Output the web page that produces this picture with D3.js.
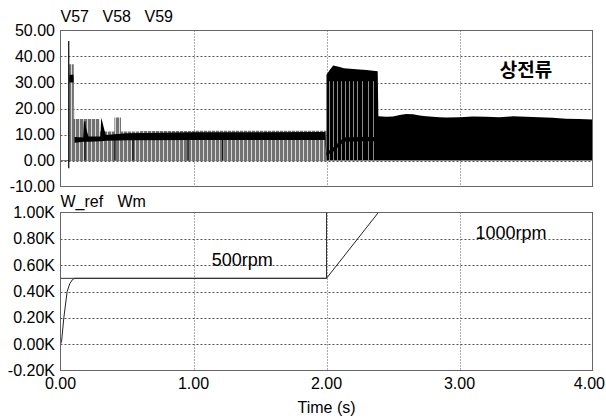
<!DOCTYPE html>
<html><head><meta charset="utf-8">
<script src="https://cdn.jsdelivr.net/npm/d3@7"></script>
<style>
body{margin:0;background:#fff}
svg{display:block}
text{font-family:"Liberation Sans",Arial,sans-serif;fill:#000}
</style>
</head><body>
<svg id="c" width="606" height="419"></svg>
<script>
// ---------- data ----------
const timeTicks = [0, 1, 2, 3, 4];
const topTicks = [-10, 0, 10, 20, 30, 40, 50];
const botTicks = [-0.2, 0, 0.2, 0.4, 0.6, 0.8, 1.0];
const topSeries = ["V57", "V58", "V59"];
const botSeries = ["W_ref", "Wm"];

// phase-current (V57..V59) striped envelope, 0 .. 2.0 s
const envT  = [0.065, 0.098, 0.100, 0.20, 0.29, 0.295, 0.40, 0.405, 0.45, 0.455, 0.60, 1.00, 1.50, 2.00];
const envHi = [37,    37,    16,    16,   16,   11.2,  11.2, 16.5,  16.5, 11.2,  11.3, 11.4, 11.4, 11.6];
// average black band of the phase currents
const bandT  = [0.066, 0.098, 0.106, 0.17, 0.176, 0.21, 0.30, 0.306, 0.34, 0.50, 1.00, 1.50, 1.99, 2.00, 2.05, 2.13, 2.25, 2.39];
const bandLo = [30,    30,    6.8,   7.2,  7.2,   7.2,  7.4,  7.4,   7.6,  7.8,  7.9,  7.9,  7.9,  1.8,  3.4,  7.2,  7.4,  7.4];
const bandHi = [33,    33,    9.0,   8.8,  15.5,  9.2,  9.2,  16.5,  9.8,  10.5, 10.9, 10.9, 11.0, 3.0,  5.0,  8.8,  9.0,  9.0];
// starting spike and dark dips
const spikeT  = [0.062, 0.184, 0.41, 0.545, 0.958, 1.22];
const spikeLo = [-3,    0,     0,    0,     0,     0];
const spikeHi = [46,    15,    10,   9,     9,     9];
// dense (high-speed) region 2.0 .. 4.0 s
const denseT  = [2.00, 2.02, 2.05, 2.10, 2.13, 2.20, 2.30, 2.385, 2.39, 2.45, 2.50, 2.55, 2.60, 2.65, 2.70, 2.75, 2.85, 2.90, 3.00, 3.10, 3.20, 3.30, 3.40, 3.50, 3.60, 3.70, 3.80, 3.90, 4.00];
const denseHi = [33,   34.5, 36.5, 36.0, 35.5, 35.2, 34.8, 34.3,  17.0, 16.8, 16.9, 17.5, 17.9, 17.8, 17.3, 17.0, 16.6, 16.5, 16.6, 16.9, 16.8, 16.6, 17.0, 16.8, 16.6, 16.4, 16.1, 16.0, 15.8];
const denseSolidLo = 30.5;   // solid top band for 2.0..2.385 s
// light striped part of the dense region
const stripeT  = [2.00, 2.25];
const stripeHi = [30.5, 30.5];
const lightLineT = [2.27, 2.31, 2.35];

// speed
const wrefT = [0, 2.0, 2.0, 4.0];
const wrefV = [0.5, 0.5, 1.0, 1.0];
const wmT = [0, 0.008, 0.025, 0.05, 0.07, 0.09, 0.105, 2.0, 2.39, 4.0];
const wmV = [0, 0.02, 0.20, 0.40, 0.46, 0.49, 0.50, 0.50, 1.00, 1.00];

// ---------- layout ----------
const svg = d3.select("#c");
const x = d3.scaleLinear().domain([0, 4]).range([60.5, 592.5]);
const yT = d3.scaleLinear().domain([-10, 50]).range([186.5, 30.5]);
const yB = d3.scaleLinear().domain([-0.2, 1.0]).range([370.5, 212.5]);
const FS = 16;

const defs = svg.append("defs");
const pg = defs.append("pattern").attr("id", "grayStripes").attr("patternUnits", "userSpaceOnUse")
  .attr("width", 4).attr("height", 10);
pg.append("rect").attr("width", 4).attr("height", 10).attr("fill", "#d8d8d8");
pg.append("rect").attr("width", 3).attr("height", 10).attr("fill", "#727272");
const pd = defs.append("pattern").attr("id", "lightLines").attr("patternUnits", "userSpaceOnUse")
  .attr("width", 4).attr("height", 10);
pd.append("rect").attr("x", 1).attr("width", 1).attr("height", 10).attr("fill", "#8a8a8a");

function clip(id, y) {
  defs.append("clipPath").attr("id", id).append("rect")
    .attr("x", x.range()[0]).attr("y", y.range()[1])
    .attr("width", x.range()[1] - x.range()[0]).attr("height", y.range()[0] - y.range()[1]);
}
clip("clipT", yT); clip("clipB", yB);

function grid(g, y, ticks) {
  g.selectAll("line.h").data(ticks.filter(d => d > y.domain()[0] && d < y.domain()[1]))
    .join("line").attr("x1", x.range()[0]).attr("x2", x.range()[1])
    .attr("y1", d => Math.round(y(d)) + 0.5).attr("y2", d => Math.round(y(d)) + 0.5)
    .attr("stroke", "#555").attr("stroke-dasharray", "2,2");
  g.selectAll("line.v").data(timeTicks.slice(1, -1)).join(enter => enter.append("line"))
    .attr("x1", d => Math.round(x(d)) + 0.5).attr("x2", d => Math.round(x(d)) + 0.5)
    .attr("y1", y.range()[1]).attr("y2", y.range()[0])
    .attr("stroke", "#555").attr("stroke-dasharray", "1,2");
}

// ---------- top panel ----------
const gT = svg.append("g");
const gTg = gT.append("g"); grid(gTg, yT, topTicks);
const gTd = gT.append("g").attr("clip-path", "url(#clipT)");
const idx = a => a.map((_, i) => i);

// zero line of phase currents
gTd.append("line").attr("x1", x(0)).attr("x2", x(2.0))
  .attr("y1", yT(0)).attr("y2", yT(0)).attr("stroke", "#777").attr("stroke-width", 1.2);

gTd.append("path").datum(idx(envT))
  .attr("d", d3.area().curve(d3.curveStepAfter).x(i => x(envT[i])).y0(yT(0)).y1(i => yT(envHi[i])))
  .attr("fill", "url(#grayStripes)");

// dense region (solid black)
gTd.append("path").datum(idx(denseT))
  .attr("d", d3.area().x(i => x(denseT[i])).y0(yT(0)).y1(i => yT(denseHi[i])))
  .attr("fill", "#000");
// light lines in the first part of the dense region
gTd.append("path").datum(idx(stripeT))
  .attr("d", d3.area().x(i => x(stripeT[i])).y0(yT(0)).y1(i => yT(stripeHi[i])))
  .attr("fill", "url(#lightLines)");
gTd.selectAll("line.ll").data(lightLineT).join("line")
  .attr("x1", d => Math.round(x(d)) + 0.5).attr("x2", d => Math.round(x(d)) + 0.5)
  .attr("y1", yT(0)).attr("y2", yT(denseSolidLo)).attr("stroke", "#8a8a8a");

// dips / spikes
gTd.selectAll("line.sp").data(idx(spikeT)).join("line")
  .attr("x1", i => x(spikeT[i])).attr("x2", i => x(spikeT[i]))
  .attr("y1", i => yT(spikeLo[i])).attr("y2", i => yT(spikeHi[i]))
  .attr("stroke", "#000").attr("stroke-width", 1.2);

// mean band
gTd.append("path").datum(idx(bandT))
  .attr("d", d3.area().x(i => x(bandT[i])).y0(i => yT(bandLo[i])).y1(i => yT(bandHi[i])))
  .attr("fill", "#000");

gT.append("rect").attr("x", x.range()[0]).attr("y", yT.range()[1])
  .attr("width", x.range()[1] - x.range()[0]).attr("height", yT.range()[0] - yT.range()[1])
  .attr("fill", "none").attr("stroke", "#666");

gT.selectAll("text.yt").data(topTicks).join("text")
  .attr("x", 55).attr("y", d => yT(d)).attr("dy", "0.35em").attr("text-anchor", "end")
  .attr("font-size", FS).text(d => d.toFixed(2));

gT.selectAll("text.lg").data(topSeries).join("text")
  .attr("x", (d, i) => x(0) + i * 42).attr("y", 22).attr("font-size", FS).text(d => d);

gT.append("text").attr("x", x(3.5)).attr("y", yT(32.2)).attr("text-anchor", "middle")
  .attr("font-size", 19).attr("font-weight", 700)
  .style("font-family", '"Noto Sans CJK KR","Noto Sans CJK SC",sans-serif').text("상전류");

// ---------- bottom panel ----------
const gB = svg.append("g");
const gBg = gB.append("g"); grid(gBg, yB, botTicks);
const gBd = gB.append("g").attr("clip-path", "url(#clipB)");
gBd.append("path").datum(idx(wmT))
  .attr("d", d3.line().x(i => x(wmT[i])).y(i => yB(wmV[i])))
  .attr("fill", "none").attr("stroke", "#222").attr("stroke-width", 1);
gBd.append("path").datum(idx(wrefT))
  .attr("d", d3.line().x(i => x(wrefT[i])).y(i => yB(wrefV[i])))
  .attr("fill", "none").attr("stroke", "#333").attr("stroke-width", 1);

gB.append("rect").attr("x", x.range()[0]).attr("y", yB.range()[1])
  .attr("width", x.range()[1] - x.range()[0]).attr("height", yB.range()[0] - yB.range()[1])
  .attr("fill", "none").attr("stroke", "#666");

gB.selectAll("text.yt").data(botTicks).join("text")
  .attr("x", 55).attr("y", d => yB(d)).attr("dy", "0.35em").attr("text-anchor", "end")
  .attr("font-size", FS).text(d => d.toFixed(2) + "K");

gB.selectAll("text.lg").data(botSeries).join("text")
  .attr("x", (d, i) => x(0) + i * 57).attr("y", 207).attr("font-size", FS).text(d => d);

gB.append("text").attr("x", x(1.137)).attr("y", yB(0.594)).attr("font-size", 18).text("500rpm");
gB.append("text").attr("x", x(3.12)).attr("y", yB(0.80)).attr("font-size", 18).text("1000rpm");

// x axis
svg.selectAll("text.xt").data(timeTicks).join("text")
  .attr("x", (d, i) => i === timeTicks.length - 1 ? 605 : x(d)).attr("y", 383).attr("dy", "0.35em")
  .attr("text-anchor", (d, i) => i === timeTicks.length - 1 ? "end" : "middle")
  .attr("font-size", FS).text(d => d.toFixed(2));
svg.append("text").attr("x", x(2)).attr("y", 413).attr("text-anchor", "middle")
  .attr("font-size", FS).text("Time (s)");
</script>
</body></html>
